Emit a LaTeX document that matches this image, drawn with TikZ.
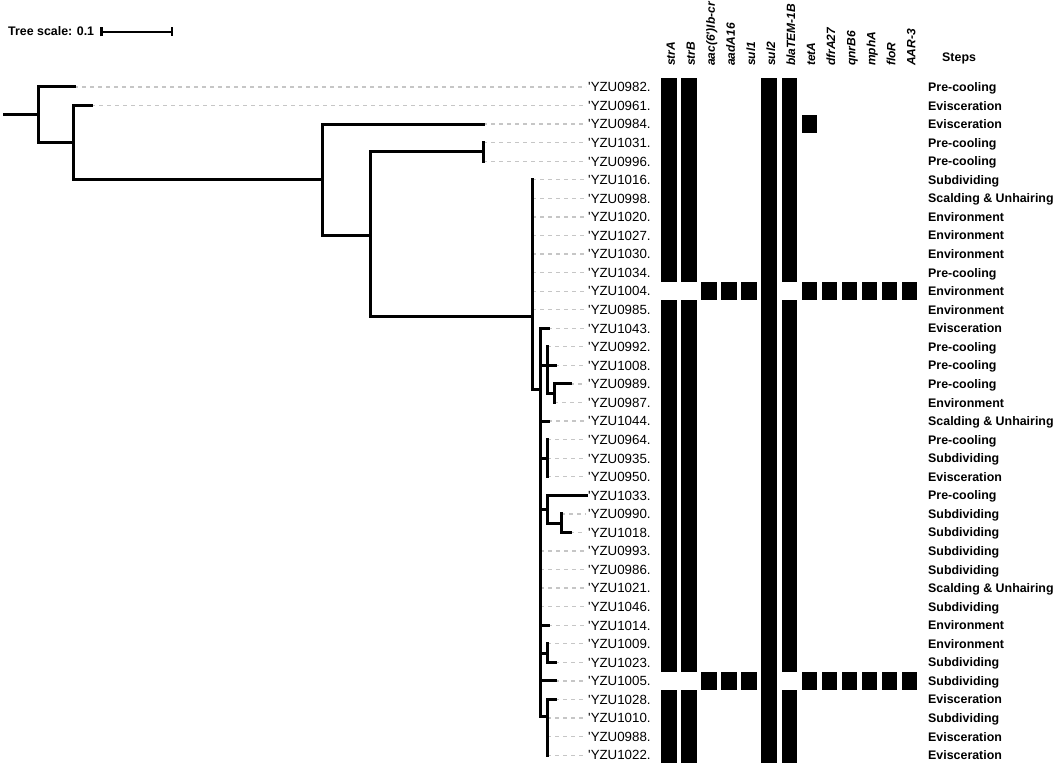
\documentclass[tikz,border=0pt]{standalone}
\usepackage{fontspec}
\setmainfont{Liberation Sans}
\newfontfamily\labfont{Liberation Sans}
\usetikzlibrary{arrows.meta}

\begin{document}
\begin{tikzpicture}[
    x=1pt, y=-1pt,
    branch/.style={line width=3pt, line cap=rect},
    leafdash/.style={gray!45, line width=1.3pt, dash pattern=on 4pt off 4pt},
    tiplbl/.style={anchor=base west, inner xsep=2pt, inner ysep=0pt, font=\labfont\fontsize{13.3}{15}\selectfont},
    steplbl/.style={anchor=base west, inner sep=0pt, font=\bfseries\fontsize{12.4}{14}\selectfont},
    genelbl/.style={rotate=90, anchor=base west, inner sep=0pt, font=\labfont\bfseries\itshape\fontsize{12}{14}\selectfont},
    cell/.style={fill=black}
]
\useasboundingbox (0,0) rectangle (1056,762);
\fill[white] (0,0) rectangle (1056,762);

% Tree scale
\node[steplbl] (scaletxt) at (8,35.6) {Tree scale: 0.1};
\coordinate (sb0) at (100,32);
\coordinate (sb1) at (173,32);
\draw[line width=2.5pt, {Bar[width=9pt]}-{Bar[width=9pt]}] (sb0) -- (sb1);

% Internal nodes of the tree
\coordinate (root) at (4,115);
\coordinate (nA) at (38,115);
\coordinate (nB) at (73,143);
\coordinate (nC) at (322,179.8);
\coordinate (nD) at (370,235);
\coordinate (nE) at (483,152);
\coordinate (nF) at (532,316.7);
\coordinate (nG) at (540,389);
\coordinate (nH) at (547,365.4);
\coordinate (nI) at (554,393.2);
\coordinate (nJ) at (547,458.2);
\coordinate (nK) at (547,509.3);
\coordinate (nL) at (561,523.2);
\coordinate (nM) at (547,653);
\coordinate (nN) at (547,716.7);

\draw[branch] (root) -- (nA);
\draw[branch] (nA) |- (nB);
\draw[branch] (nB) |- (nC);
\draw[branch] (nC) |- (nD);
\draw[branch] (nD) |- (nE);
\draw[branch] (nD) |- (nF);
\draw[branch] (nF) |- (nG);
\draw[branch] (nG) |- (nH);
\draw[branch] (nH) |- (nI);
\draw[branch] (nG) |- (nJ);
\draw[branch] (nG) |- (nK);
\draw[branch] (nK) |- (nL);
\draw[branch] (nG) |- (nM);
\draw[branch] (nG) |- (nN);

% Leaves, labels and steps
\foreach \i/\nm/\st/\tx/\pa in {
  1/YZU0982/Pre-cooling/74/nA,
  2/YZU0961/Evisceration/91/nB,
  3/YZU0984/Evisceration/483/nC,
  4/YZU1031/Pre-cooling/483/nE,
  5/YZU0996/Pre-cooling/483/nE,
  6/YZU1016/Subdividing/532/nF,
  7/YZU0998/Scalding \& Unhairing/532/nF,
  8/YZU1020/Environment/532/nF,
  9/YZU1027/Environment/532/nF,
  10/YZU1030/Environment/532/nF,
  11/YZU1034/Pre-cooling/532/nF,
  12/YZU1004/Environment/532/nF,
  13/YZU0985/Environment/532/nF,
  14/YZU1043/Evisceration/548/nG,
  15/YZU0992/Pre-cooling/547/nH,
  16/YZU1008/Pre-cooling/555/nH,
  17/YZU0989/Pre-cooling/570/nI,
  18/YZU0987/Environment/554/nI,
  19/YZU1044/Scalding \& Unhairing/548/nG,
  20/YZU0964/Pre-cooling/547/nJ,
  21/YZU0935/Subdividing/547/nJ,
  22/YZU0950/Evisceration/547/nJ,
  23/YZU1033/Pre-cooling/586/nK,
  24/YZU0990/Subdividing/561/nL,
  25/YZU1018/Subdividing/570/nL,
  26/YZU0993/Subdividing/540/nG,
  27/YZU0986/Subdividing/540/nG,
  28/YZU1021/Scalding \& Unhairing/540/nG,
  29/YZU1046/Subdividing/540/nG,
  30/YZU1014/Environment/548/nG,
  31/YZU1009/Environment/547/nM,
  32/YZU1023/Subdividing/555/nM,
  33/YZU1005/Subdividing/555/nG,
  34/YZU1028/Evisceration/555/nN,
  35/YZU1010/Subdividing/547/nN,
  36/YZU0988/Evisceration/547/nN,
  37/YZU1022/Evisceration/547/nN}{
  \pgfmathsetmacro\ry{87+(\i-1)*18.56}
  \coordinate (tip\i) at (\tx,\ry);
  \node[tiplbl] (lab\i) at (586,\ry+4.8) {'\nm.};
  \node[steplbl] (stp\i) at (928,\ry+4.5) {\st};
  \draw[leafdash] (tip\i) -- (tip\i -| lab\i.west);
  \draw[branch] (\pa) |- (tip\i);
}

% Gene headers
\foreach \g [count=\k from 0] in {strA,strB,{aac(6')Ib-cr},aadA16,sul1,sul2,blaTEM-1B,tetA,dfrA27,qnrB6,mphA,floR,AAR-3}
  \node[genelbl] (gene\k) at ({669+20.05*\k+5.8},66) {\g};
\node[steplbl] (stephead) at (942,61.5) {Steps};

% Gene matrix
\foreach \k/\a/\b in {0/1/11,0/13/32,0/34/37,1/1/11,1/13/32,1/34/37,5/1/37,6/1/11,6/13/32,6/34/37,7/3/3}
  \fill[cell] ({669+20.05*\k-7.8},{77.72+(\a-1)*18.56}) rectangle ({669+20.05*\k+7.8},{96.28+(\b-1)*18.56});
\foreach \r in {12,33}
  \foreach \k in {2,3,4,7,8,9,10,11,12}
    \fill[cell] ({669+20.05*\k-7.8},{77.72+(\r-1)*18.56}) rectangle ({669+20.05*\k+7.8},{96.28+(\r-1)*18.56});
\end{tikzpicture}
\end{document}
